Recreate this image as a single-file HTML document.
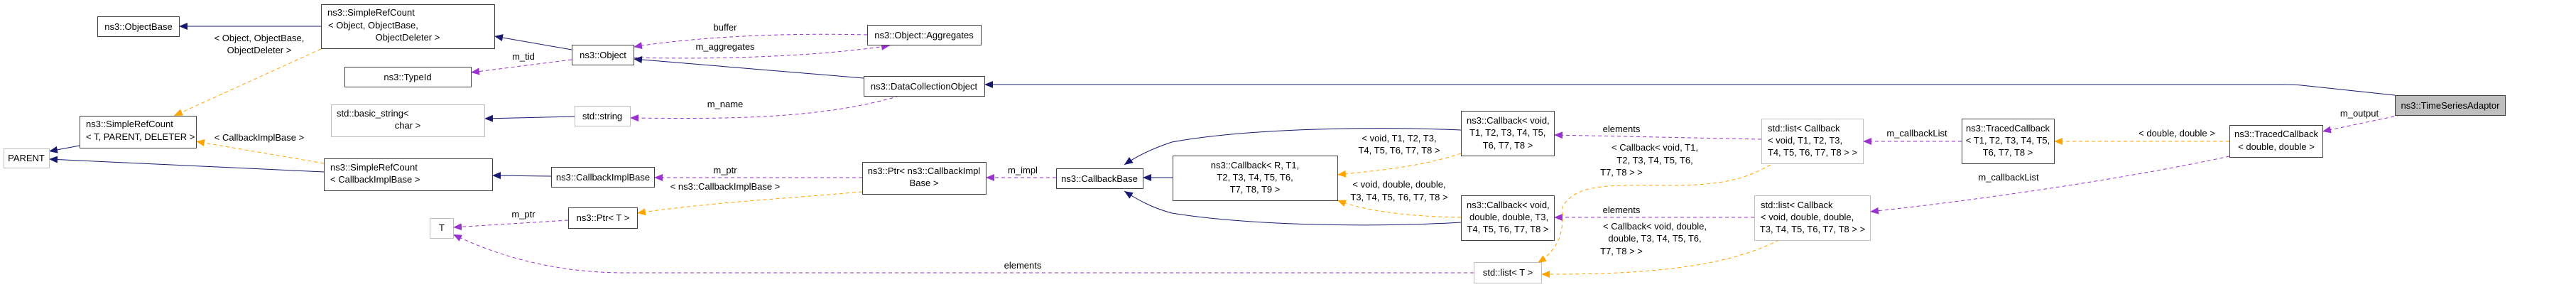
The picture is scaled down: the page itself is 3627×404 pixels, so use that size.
<!DOCTYPE html>
<html><head><meta charset="utf-8"><style>
html,body{margin:0;padding:0;background:#fff}
svg{display:block}
text{font-family:"Liberation Sans","DejaVu Sans",sans-serif;font-size:13px;fill:#000}
.b{fill:#fff;stroke:#404040;stroke-width:1}
.g{fill:#fff;stroke:#bfbfbf;stroke-width:1}
.n{fill:none;stroke:#191970;stroke-width:1}
.p{fill:none;stroke:#9a32cd;stroke-width:1;stroke-dasharray:5,4}
.o{fill:none;stroke:#ffa500;stroke-width:1;stroke-dasharray:5,4}
</style></head><body>
<svg width="3627" height="404" viewBox="0 0 3627 404" xmlns="http://www.w3.org/2000/svg">
<defs>
<marker id="an" markerUnits="userSpaceOnUse" markerWidth="14" markerHeight="10" refX="12" refY="5" orient="auto"><path d="M0,0 L12,5 L0,10 z" fill="#191970"/></marker>
<marker id="ap" markerUnits="userSpaceOnUse" markerWidth="14" markerHeight="10" refX="12" refY="5" orient="auto"><path d="M0,0 L12,5 L0,10 z" fill="#9a32cd"/></marker>
<marker id="ao" markerUnits="userSpaceOnUse" markerWidth="14" markerHeight="10" refX="12" refY="5" orient="auto"><path d="M0,0 L12,5 L0,10 z" fill="#ffa500"/></marker>
</defs>

<!-- edges -->
<path class="n" d="M452,37 L252,37" marker-end="url(#an)"/>
<path class="o" d="M452,69 L245,163" marker-end="url(#ao)"/>
<path class="n" d="M112,205 L69,213" marker-end="url(#an)"/>
<path class="n" d="M456,242 L69,224" marker-end="url(#an)"/>
<path class="o" d="M456,230 L276,199" marker-end="url(#ao)"/>
<path class="n" d="M805,70 L696,51" marker-end="url(#an)"/>
<path class="p" d="M805,84 L663,102" marker-end="url(#ap)"/>
<path class="n" d="M809,164 L682,167" marker-end="url(#an)"/>
<path class="n" d="M776,248 L693,247" marker-end="url(#an)"/>
<path class="p" d="M800,310 L638,320" marker-end="url(#ap)"/>
<path class="p" d="M1221,49 C1100,46 980,52 892,66" marker-end="url(#ap)"/>
<path class="p" d="M892,81 C1000,84 1150,80 1253,64" marker-end="url(#ap)"/>
<path class="n" d="M1216,110 L892,83" marker-end="url(#an)"/>
<path class="p" d="M1266,135 C1150,170 1000,167 887,166" marker-end="url(#ap)"/>
<path class="p" d="M1214,250 L921,250" marker-end="url(#ap)"/>
<path class="o" d="M1214,270 C1100,280 1000,285 897,300" marker-end="url(#ao)"/>
<path class="p" d="M2075,384 L880,384 C780,384 700,360 638,330" marker-end="url(#ap)"/>
<path class="p" d="M1487,250 L1388,250" marker-end="url(#ap)"/>
<path class="n" d="M3372,134 L3240,120 C3230,119 3220,119 3210,119 L1386,119" marker-end="url(#an)"/>
<path class="n" d="M1651,250 L1609,250" marker-end="url(#an)"/>
<path class="n" d="M2057,183 C1940,178 1760,180 1650,200 C1620,210 1600,220 1583,232" marker-end="url(#an)"/>
<path class="n" d="M2057,313 C1940,320 1760,318 1650,300 C1620,292 1600,280 1583,269" marker-end="url(#an)"/>
<path class="o" d="M2057,216 C2000,235 1940,240 1883,246" marker-end="url(#ao)"/>
<path class="o" d="M2057,306 C2000,305 1930,300 1883,282" marker-end="url(#ao)"/>
<path class="p" d="M2480,196 L2188,190" marker-end="url(#ap)"/>
<path class="p" d="M2470,306 L2188,306" marker-end="url(#ap)"/>
<path class="o" d="M2493,232 C2460,250 2430,262 2340,261 C2250,260 2220,262 2200,290 C2200,310 2205,345 2165,370" marker-end="url(#ao)"/>
<path class="o" d="M2505,338 C2440,370 2350,387 2170,386" marker-end="url(#ao)"/>
<path class="p" d="M2762,199 L2623,199" marker-end="url(#ap)"/>
<path class="o" d="M3139,199 L2892,199" marker-end="url(#ao)"/>
<path class="p" d="M3139,220 C3000,250 2800,280 2633,298" marker-end="url(#ap)"/>
<path class="p" d="M3380,162 L3270,185" marker-end="url(#ap)"/>

<!-- edge labels -->
<g text-anchor="middle">
<text x="365" y="58">&lt; Object, ObjectBase,</text>
<text x="365" y="75">ObjectDeleter &gt;</text>
<text x="365" y="198">&lt; CallbackImplBase &gt;</text>
<text x="737" y="84">m_tid</text>
<text x="737" y="306">m_ptr</text>
<text x="1021" y="43">buffer</text>
<text x="1021" y="70">m_aggregates</text>
<text x="1021" y="151">m_name</text>
<text x="1021" y="244">m_ptr</text>
<text x="1021" y="267">&lt; ns3::CallbackImplBase &gt;</text>
<text x="1440" y="244">m_impl</text>
<text x="1440" y="378">elements</text>
<text x="1970" y="199">&lt; void, T1, T2, T3,</text>
<text x="1970" y="216">T4, T5, T6, T7, T8 &gt;</text>
<text x="1970" y="264">&lt; void, double, double,</text>
<text x="1970" y="282">T3, T4, T5, T6, T7, T8 &gt;</text>
<text x="2283" y="186">elements</text>
<text x="2330" y="212">&lt; Callback&lt; void, T1,</text>
<text x="2330" y="230">T2, T3, T4, T5, T6,</text>
<text x="2283" y="247">T7, T8 &gt; &gt;</text>
<text x="2283" y="300">elements</text>
<text x="2330" y="323">&lt; Callback&lt; void, double,</text>
<text x="2330" y="340">double, T3, T4, T5, T6,</text>
<text x="2283" y="358">T7, T8 &gt; &gt;</text>
<text x="2699" y="192">m_callbackList</text>
<text x="2828" y="254">m_callbackList</text>
<text x="3065" y="192">&lt; double, double &gt;</text>
<text x="3322" y="164">m_output</text>
</g>

<!-- nodes -->
<rect class="b" x="137.5" y="23.5" width="115" height="28"/>
<text x="195" y="42" text-anchor="middle">ns3::ObjectBase</text>

<rect class="b" x="452.5" y="6.5" width="244" height="62"/>
<text x="461" y="22">ns3::SimpleRefCount</text>
<text x="462" y="40">&lt; Object, ObjectBase,</text>
<text x="574" y="57" text-anchor="middle">ObjectDeleter &gt;</text>

<rect class="b" x="112.5" y="163.5" width="164" height="45"/>
<text x="121" y="179">ns3::SimpleRefCount</text>
<text x="121" y="197">&lt; T, PARENT, DELETER &gt;</text>

<rect class="g" x="5.5" y="209.5" width="64" height="27"/>
<text x="37" y="227" text-anchor="middle">PARENT</text>

<rect class="b" x="456.5" y="223.5" width="237" height="45"/>
<text x="465" y="240">ns3::SimpleRefCount</text>
<text x="465" y="257">&lt; CallbackImplBase &gt;</text>

<rect class="b" x="485.5" y="94.5" width="178" height="28"/>
<text x="574" y="113" text-anchor="middle">ns3::TypeId</text>

<rect class="g" x="466.5" y="147.5" width="216" height="45"/>
<text x="474" y="164">std::basic_string&lt;</text>
<text x="574" y="181" text-anchor="middle">char &gt;</text>

<rect class="g" x="605.5" y="307.5" width="33" height="28"/>
<text x="622" y="325" text-anchor="middle">T</text>

<rect class="b" x="805.5" y="63.5" width="87" height="28"/>
<text x="849" y="82" text-anchor="middle">ns3::Object</text>

<rect class="g" x="809.5" y="149.5" width="78" height="28"/>
<text x="848" y="168" text-anchor="middle">std::string</text>

<rect class="b" x="776.5" y="235.5" width="145" height="28"/>
<text x="849" y="254" text-anchor="middle">ns3::CallbackImplBase</text>

<rect class="b" x="800.5" y="292.5" width="97" height="29"/>
<text x="849" y="311" text-anchor="middle">ns3::Ptr&lt; T &gt;</text>

<rect class="b" x="1221.5" y="35.5" width="160" height="28"/>
<text x="1301" y="54" text-anchor="middle">ns3::Object::Aggregates</text>

<rect class="b" x="1216.5" y="107.5" width="170" height="28"/>
<text x="1301" y="126" text-anchor="middle">ns3::DataCollectionObject</text>

<rect class="b" x="1214.5" y="228.5" width="174" height="45"/>
<text x="1301" y="245" text-anchor="middle">ns3::Ptr&lt; ns3::CallbackImpl</text>
<text x="1301" y="262" text-anchor="middle">Base &gt;</text>

<rect class="b" x="1487.5" y="237.5" width="122" height="28"/>
<text x="1548" y="256" text-anchor="middle">ns3::CallbackBase</text>

<rect class="b" x="1651.5" y="219.5" width="232" height="63"/>
<text x="1767" y="237" text-anchor="middle">ns3::Callback&lt; R, T1,</text>
<text x="1767" y="254" text-anchor="middle">T2, T3, T4, T5, T6,</text>
<text x="1767" y="271" text-anchor="middle">T7, T8, T9 &gt;</text>

<rect class="b" x="2057.5" y="156.5" width="131" height="63"/>
<text x="2065" y="174">ns3::Callback&lt; void,</text>
<text x="2069" y="191">T1, T2, T3, T4, T5,</text>
<text x="2123" y="209" text-anchor="middle">T6, T7, T8 &gt;</text>

<rect class="b" x="2057.5" y="275.5" width="131" height="63"/>
<text x="2065" y="293">ns3::Callback&lt; void,</text>
<text x="2069" y="310">double, double, T3,</text>
<text x="2123" y="327" text-anchor="middle">T4, T5, T6, T7, T8 &gt;</text>

<rect class="g" x="2075.5" y="369.5" width="95" height="29"/>
<text x="2123" y="388" text-anchor="middle">std::list&lt; T &gt;</text>

<rect class="g" x="2480.5" y="167.5" width="143" height="63"/>
<text x="2489" y="185">std::list&lt; Callback</text>
<text x="2489" y="202">&lt; void, T1, T2, T3,</text>
<text x="2552" y="219" text-anchor="middle">T4, T5, T6, T7, T8 &gt; &gt;</text>

<rect class="g" x="2470.5" y="275.5" width="163" height="63"/>
<text x="2479" y="293">std::list&lt; Callback</text>
<text x="2479" y="310">&lt; void, double, double,</text>
<text x="2552" y="327" text-anchor="middle">T3, T4, T5, T6, T7, T8 &gt; &gt;</text>

<rect class="b" x="2762.5" y="167.5" width="130" height="63"/>
<text x="2827" y="185" text-anchor="middle">ns3::TracedCallback</text>
<text x="2827" y="202" text-anchor="middle">&lt; T1, T2, T3, T4, T5,</text>
<text x="2827" y="219" text-anchor="middle">T6, T7, T8 &gt;</text>

<rect class="b" x="3139.5" y="176.5" width="131" height="45"/>
<text x="3205" y="193" text-anchor="middle">ns3::TracedCallback</text>
<text x="3205" y="211" text-anchor="middle">&lt; double, double &gt;</text>

<rect x="3372.5" y="134.5" width="155" height="28" fill="#bfbfbf" stroke="#404040"/>
<text x="3450" y="153" text-anchor="middle">ns3::TimeSeriesAdaptor</text>
</svg>
</body></html>
